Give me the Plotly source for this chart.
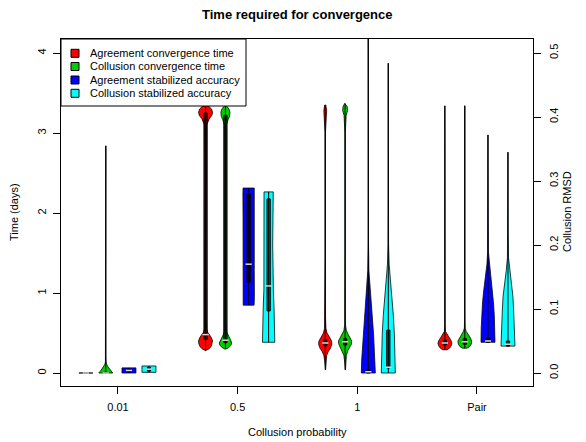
import plotly.graph_objects as go

# ---------------- data ----------------
groups = ["0.01", "0.5", "1", "Pair"]
series_names = ["Agreement convergence time", "Collusion convergence time",
                "Agreement stabilized accuracy", "Collusion stabilized accuracy"]
series_colors = ["#FF0000", "#00CD00", "#0000FF", "#00FFFF"]
series_on_right_axis = [False, False, True, True]

# density profiles: levels (days or RMSD) and relative half-widths, per group
agree_time_levels = [
    [0.0, 0.0005],
    [0.28, 0.30, 0.33, 0.37, 0.40, 0.44, 0.48, 0.51, 0.55, 0.7, 1.5, 2.5, 3.1, 3.18, 3.22, 3.26, 3.30, 3.33, 3.35],
    [0.04, 0.15, 0.22, 0.27, 0.31, 0.36, 0.40, 0.45, 0.50, 0.56, 0.7, 1.5, 3.0, 3.2, 3.28, 3.35],
    [0.29, 0.31, 0.34, 0.375, 0.41, 0.45, 0.49, 0.52, 0.6, 3.34],
]
agree_time_widths = [
    [1.0, 1.0],
    [0.0, 0.45, 0.8, 0.98, 1.0, 0.85, 0.55, 0.3, 0.15, 0.1, 0.1, 0.1, 0.15, 0.55, 0.9, 1.0, 0.85, 0.5, 0.0],
    [0.05, 0.08, 0.2, 0.45, 0.75, 0.95, 0.9, 0.6, 0.25, 0.1, 0.04, 0.03, 0.03, 0.15, 0.2, 0.08],
    [0.3, 0.65, 0.9, 1.0, 0.85, 0.55, 0.25, 0.08, 0.03, 0.02],
]
agree_time_stats = [  # low, q1, median, q3, high
    [0.0, 0.0, 0.0, 0.0, 0.0],
    [0.28, 0.42, 0.48, 3.25, 3.35],
    [0.04, 0.34, 0.375, 0.42, 3.35],
    [0.29, 0.35, 0.375, 0.41, 3.34],
]

collude_time_levels = [
    [0.0, 0.02, 0.05, 0.08, 0.11, 0.14, 0.2, 0.5, 1.0, 2.0, 2.84],
    [0.30, 0.32, 0.35, 0.375, 0.40, 0.44, 0.48, 0.52, 0.6, 1.5, 2.5, 3.1, 3.17, 3.21, 3.26, 3.30, 3.33, 3.35],
    [0.04, 0.15, 0.22, 0.28, 0.32, 0.36, 0.40, 0.44, 0.48, 0.53, 0.6, 0.8, 1.5, 3.0, 3.22, 3.28, 3.33, 3.37],
    [0.31, 0.33, 0.36, 0.40, 0.44, 0.48, 0.52, 0.56, 0.7, 3.34],
]
collude_time_widths = [
    [1.0, 0.8, 0.55, 0.3, 0.12, 0.05, 0.02, 0.02, 0.02, 0.02, 0.01],
    [0.1, 0.5, 0.8, 0.88, 0.8, 0.55, 0.3, 0.15, 0.1, 0.1, 0.1, 0.12, 0.4, 0.6, 0.65, 0.5, 0.25, 0.0],
    [0.05, 0.08, 0.18, 0.4, 0.7, 0.9, 0.95, 0.75, 0.45, 0.18, 0.06, 0.03, 0.03, 0.03, 0.15, 0.35, 0.3, 0.05],
    [0.3, 0.7, 0.92, 0.98, 0.8, 0.5, 0.2, 0.06, 0.02, 0.02],
]
collude_time_stats = [
    [0.0, 0.0, 0.0, 0.01, 2.84],
    [0.30, 0.38, 0.41, 3.22, 3.35],
    [0.04, 0.35, 0.39, 0.43, 3.37],
    [0.31, 0.36, 0.39, 0.43, 3.34],
]

agree_acc_levels = [
    [0.0, 0.008],
    [0.106, 0.12, 0.16, 0.20, 0.24, 0.28, 0.289],
    [0.0, 0.02, 0.04, 0.06, 0.08, 0.10, 0.12, 0.14, 0.16, 0.2, 0.3, 0.56],
    [0.048, 0.07, 0.09, 0.11, 0.13, 0.15, 0.17, 0.19, 0.25, 0.372],
]
agree_acc_widths = [
    [1.0, 1.0],
    [0.78, 0.82, 0.8, 0.78, 0.8, 0.82, 0.8],
    [1.0, 0.95, 0.85, 0.75, 0.62, 0.5, 0.38, 0.2, 0.08, 0.03, 0.02, 0.02],
    [1.0, 0.97, 0.9, 0.78, 0.6, 0.4, 0.15, 0.05, 0.02, 0.01],
]
agree_acc_stats = [
    [0.0, 0.002, 0.004, 0.006, 0.008],
    [0.106, 0.142, 0.170, 0.280, 0.289],
    [0.0, 0.0, 0.002, 0.005, 0.56],
    [0.048, 0.048, 0.05, 0.056, 0.372],
]

collude_acc_levels = [
    [0.001, 0.011],
    [0.048, 0.07, 0.10, 0.13, 0.16, 0.20, 0.24, 0.27, 0.283],
    [0.0, 0.03, 0.06, 0.09, 0.12, 0.15, 0.17, 0.2, 0.3, 0.484],
    [0.042, 0.06, 0.08, 0.10, 0.12, 0.14, 0.16, 0.18, 0.22, 0.345],
]
collude_acc_widths = [
    [1.0, 1.0],
    [0.88, 0.86, 0.78, 0.68, 0.6, 0.58, 0.62, 0.66, 0.66],
    [1.0, 0.95, 0.87, 0.72, 0.5, 0.28, 0.12, 0.04, 0.02, 0.01],
    [1.0, 0.97, 0.88, 0.8, 0.7, 0.5, 0.25, 0.08, 0.02, 0.01],
]
collude_acc_stats = [
    [0.001, 0.003, 0.006, 0.009, 0.011],
    [0.048, 0.097, 0.136, 0.272, 0.283],
    [0.0, 0.008, 0.009, 0.067, 0.484],
    [0.042, 0.042, 0.045, 0.05, 0.345],
]

left_ticks = [0, 1, 2, 3, 4]
right_ticks = [0.0, 0.1, 0.2, 0.3, 0.4, 0.5]

# ---------------- layout constants ----------------
W, H = 586, 442
BODY = 8                                    # default page margin of the html body
PL, PR, PT, PB = 61, 533, 39, 386          # plot box in window pixels
FONT = "Liberation Sans, Arial, Helvetica, sans-serif"
X_RANGE = [0.524, 4.468]
Y_RANGE = [-0.1625, 4.175]
RIGHT_SCALE = 8.0                           # days per RMSD unit on the twin axis
OFFSETS = [-0.268, -0.102, 0.092, 0.259]
HALF = 0.0585
BOX_HALF = 0.0135
MED_HALF = 0.026


def px_x(px):
    return (px - PL) / (PR - PL)


def px_y(py):
    return (PB - py) / (PB - PT)


all_levels = [agree_time_levels, collude_time_levels, agree_acc_levels, collude_acc_levels]
all_widths = [agree_time_widths, collude_time_widths, agree_acc_widths, collude_acc_widths]
all_stats = [agree_time_stats, collude_time_stats, agree_acc_stats, collude_acc_stats]

fig = go.Figure()
for g, _ in enumerate(groups):
    for s in range(4):
        pos = (g + 1) + OFFSETS[s]
        yax = "y2" if series_on_right_axis[s] else "y"
        lv = all_levels[s][g]
        wd = all_widths[s][g]
        lo, q1, med, q3, hi = all_stats[s][g]
        xs = [pos + w * HALF for w in wd] + [pos - w * HALF for w in reversed(wd)]
        ys = list(lv) + list(reversed(lv))
        xs.append(xs[0]); ys.append(ys[0])
        common = dict(yaxis=yax, showlegend=False, hoverinfo="skip")
        fig.add_trace(go.Scatter(x=xs, y=ys, mode="lines", fill="toself",
                                 fillcolor=series_colors[s],
                                 line=dict(color="rgba(0,0,0,0.85)", width=0.9), **common))
        fig.add_trace(go.Scatter(x=[pos, pos], y=[lo, hi], mode="lines",
                                 line=dict(color="black", width=1), **common))
        fig.add_trace(go.Scatter(x=[pos - BOX_HALF, pos + BOX_HALF, pos + BOX_HALF, pos - BOX_HALF, pos - BOX_HALF],
                                 y=[q1, q1, q3, q3, q1], mode="lines", fill="toself",
                                 fillcolor="rgba(0,0,0,0.6)",
                                 line=dict(color="black", width=1), **common))
        fig.add_trace(go.Scatter(x=[pos - MED_HALF, pos + MED_HALF], y=[med, med], mode="lines",
                                 line=dict(color="#d8d8d8", width=1.5), **common))

# ---------------- manual legend ----------------
shapes = [dict(type="rect", xref="paper", yref="paper",
               x0=px_x(61), x1=px_x(246), y0=px_y(106), y1=px_y(39),
               line=dict(color="black", width=1), fillcolor="white", layer="above")]
annotations = []
legend_rows = [53.3, 66.5, 80.0, 93.3]
for s, name in enumerate(series_names):
    cy = legend_rows[s]
    shapes.append(dict(type="rect", xref="paper", yref="paper",
                       x0=px_x(71), x1=px_x(79), y0=px_y(cy + 4), y1=px_y(cy - 4),
                       fillcolor=series_colors[s], line=dict(color="black", width=1), layer="above"))
    annotations.append(dict(xref="paper", yref="paper", x=px_x(88), y=px_y(cy),
                            xanchor="left", yanchor="middle", showarrow=False, text=name,
                            font=dict(family=FONT, size=11, color="black")))

# titles
annotations += [
    dict(xref="paper", yref="paper", x=px_x(297), y=px_y(14), text="<b>Time required for convergence</b>",
         showarrow=False, xanchor="center", yanchor="middle", font=dict(family=FONT, size=13, color="black")),
    dict(xref="paper", yref="paper", x=px_x(297), y=px_y(432), text="Collusion probability",
         showarrow=False, xanchor="center", yanchor="middle", font=dict(family=FONT, size=11, color="black")),
    dict(xref="paper", yref="paper", x=px_x(14), y=px_y(212), text="Time (days)", textangle=-90,
         showarrow=False, xanchor="center", yanchor="middle", font=dict(family=FONT, size=11, color="black")),
    dict(xref="paper", yref="paper", x=px_x(567), y=px_y(212), text="Collusion RMSD", textangle=-90,
         showarrow=False, xanchor="center", yanchor="middle", font=dict(family=FONT, size=11, color="black")),
]

axis_font = dict(family=FONT, size=11, color="black")
fig.update_layout(
    width=W - BODY, height=H - BODY,
    margin=dict(l=PL - BODY, r=W - PR, t=PT - BODY, b=H - PB, pad=0),
    paper_bgcolor="white", plot_bgcolor="white",
    font=dict(family=FONT, size=11, color="black"),
    showlegend=False,
    xaxis=dict(range=X_RANGE, tickvals=[1, 2, 3, 4], ticktext=groups, ticks="outside", ticklen=7,
               tickcolor="black", showline=True, mirror=True, linecolor="black", linewidth=1.2,
               showgrid=False, zeroline=False, tickfont=axis_font, ticklabelstandoff=4),
    yaxis=dict(range=Y_RANGE, tickvals=left_ticks, ticktext=[str(t) for t in left_ticks],
               tickangle=-90, ticks="outside", ticklen=7, tickcolor="black",
               showline=True, mirror=True, linecolor="black", linewidth=1.2,
               showgrid=False, zeroline=False, tickfont=axis_font, ticklabelstandoff=3),
    yaxis2=dict(range=[v / RIGHT_SCALE for v in Y_RANGE], overlaying="y", side="right",
                tickvals=right_ticks, ticktext=["%.1f" % t for t in right_ticks],
                tickangle=-90, ticks="outside", ticklen=7, tickcolor="black",
                showline=False, showgrid=False, zeroline=False, tickfont=axis_font,
                ticklabelstandoff=4),
    shapes=shapes, annotations=annotations,
)

fig.write_html("out.html")
